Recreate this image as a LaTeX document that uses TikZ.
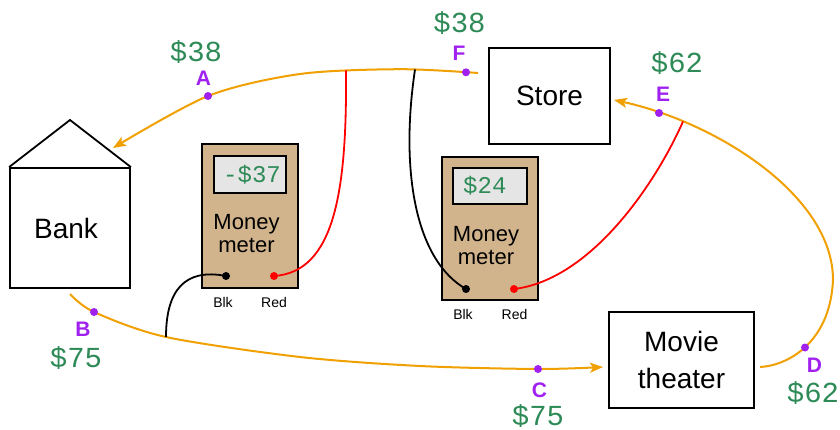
\documentclass[tikz,border=0pt]{standalone}
\usepackage{fontspec}
\setmainfont{Liberation Sans}
\newfontfamily\monofont{Liberation Mono}
\usetikzlibrary{arrows.meta}
\definecolor{flow}{RGB}{240,160,0}
\definecolor{money}{RGB}{46,139,87}
\definecolor{ptpurple}{RGB}{160,32,240}
\definecolor{tanfill}{RGB}{210,180,140}
\definecolor{lcd}{RGB}{229,229,229}
\definecolor{wirered}{RGB}{255,0,0}
\begin{document}
\begin{tikzpicture}[x=1pt,y=-1pt,
  place/.style={draw=black, line width=1.8pt, fill=white, inner sep=0pt,
    font=\fontsize{28pt}{37pt}\selectfont, align=center},
  meterbox/.style={draw=black, line width=1.8pt, fill=tanfill, inner sep=0pt,
    minimum width=96pt, minimum height=144pt},
  lcdbox/.style={draw=black, line width=1.8pt, fill=lcd, inner sep=0pt,
    minimum width=72pt, minimum height=37pt},
  lcdtext/.style={inner sep=0pt, anchor=west, text=money,
    font=\monofont\fontsize{24pt}{24pt}\selectfont},
  metertext/.style={inner sep=0pt, align=center,
    font=\fontsize{22pt}{23pt}\selectfont},
  termlabel/.style={inner sep=0pt, font=\fontsize{14pt}{14pt}\selectfont},
  term/.style={circle, inner sep=0pt, minimum size=8pt},
  amt/.style={inner sep=0pt, text=money, font=\monofont\fontsize{29pt}{29pt}\selectfont},
  ltr/.style={inner sep=0pt, text=ptpurple, font=\bfseries\fontsize{21pt}{21pt}\selectfont},
  dot/.style={circle, fill=ptpurple, inner sep=0pt, minimum size=8pt},
  flowline/.style={draw=flow, line width=2pt, -{Stealth[length=13pt,width=10pt,inset=3pt]}},
  wire/.style={line width=1.8pt}
]
\useasboundingbox (0,0) rectangle (840,430);

% places
\node[place, minimum width=120pt, minimum height=120pt] (bank) at (70,228) {\hspace*{-8pt}Bank};
\coordinate (roof) at (70,120);
\draw[line width=1.8pt, line join=miter] (bank.north west) -- (roof) -- (bank.north east);
\node[place, minimum width=121pt, minimum height=96pt] (store) at (549.5,96) {Store};
\node[place, minimum width=145pt, minimum height=96pt] (movie) at (681.5,360) {Movie\\theater};

% meters
\node[meterbox] (m1) at (250,216) {};
\node[lcdbox] (d1) at (250,174.5) {};
\node[lcdtext] (v1) at (223,174.5) {-\$37};
\node[metertext] (t1) at (246.5,233.5) {Money\\meter};
\node[termlabel] (lb1) at (223,302) {Blk};
\node[termlabel] (lr1) at (274,302) {Red};

\node[meterbox, minimum height=143pt] (m2) at (490,228.5) {};
\node[lcdbox, minimum width=74pt, minimum height=36pt] (d2) at (490,186) {};
\node[lcdtext] (v2) at (463,186) {\$24};
\node[metertext] (t2) at (486,245.5) {Money\\meter};
\node[termlabel] (lb2) at (463,314) {Blk};
\node[termlabel] (lr2) at (514.5,314) {Red};

% junction / end coordinates
\coordinate (j1) at (346,70.5);
\coordinate (j2) at (166,337);
\coordinate (j3) at (415,69.5);
\coordinate (j4) at (683,121.5);
\coordinate (m0) at (760,367);
\coordinate (rt) at (833,280);
\coordinate (st) at (614,100);

% money flow
\draw[flowline] plot[smooth] coordinates {(478,73) (400,69.2) (300,74) (208,96) (113,148)};
\draw[flowline] plot[smooth] coordinates {(70,294) (94,312) (166,337) (300,357) (420,366) (538,369) (603,367)};
\draw[flowline] (m0) .. controls (785,366) and (830,345) .. (rt)
  .. controls (833,195) and (715,122) .. (st);

% terminals
\coordinate (b1) at (226,276);
\coordinate (r1) at (274,276);
\coordinate (b2) at (466,289);
\coordinate (r2) at (514,289);

% wires
\draw[wire, draw=wirered] (r1) .. controls (335,272) and (347,190) .. (j1);
\draw[wire, draw=black] (b1) .. controls (185,268) and (166,290) .. (j2);
\draw[wire, draw=black] (j3) .. controls (400,170) and (415,260) .. (b2);
\draw[wire, draw=wirered] (r2) .. controls (590,280) and (655,185) .. (j4);

\node[term, fill=black] (tb1) at (b1) {};
\node[term, fill=wirered] (tr1) at (r1) {};
\node[term, fill=black] (tb2) at (b2) {};
\node[term, fill=wirered] (tr2) at (r2) {};

% points
\node[dot] (A) at (208,96) {};
\node[dot] (B) at (94,312) {};
\node[dot] (C) at (538,369) {};
\node[dot] (D) at (805,347.5) {};
\node[dot] (E) at (659,113) {};
\node[dot] (F) at (466,72.3) {};

\node[ltr] (lA) at (203.5,78) {A};
\node[ltr] (lB) at (83,329) {B};
\node[ltr] (lC) at (539.5,390) {C};
\node[ltr] (lD) at (814.5,365.5) {D};
\node[ltr] (lE) at (663,94) {E};
\node[ltr] (lF) at (459,53) {F};

\node[amt] (aA) at (196,52) {\$38};
\node[amt] (aB) at (76,358) {\$75};
\node[amt] (aC) at (538,416) {\$75};
\node[amt] (aD) at (813,393.5) {\$62};
\node[amt] (aE) at (677,63.5) {\$62};
\node[amt] (aF) at (459.5,23) {\$38};
\end{tikzpicture}
\end{document}
